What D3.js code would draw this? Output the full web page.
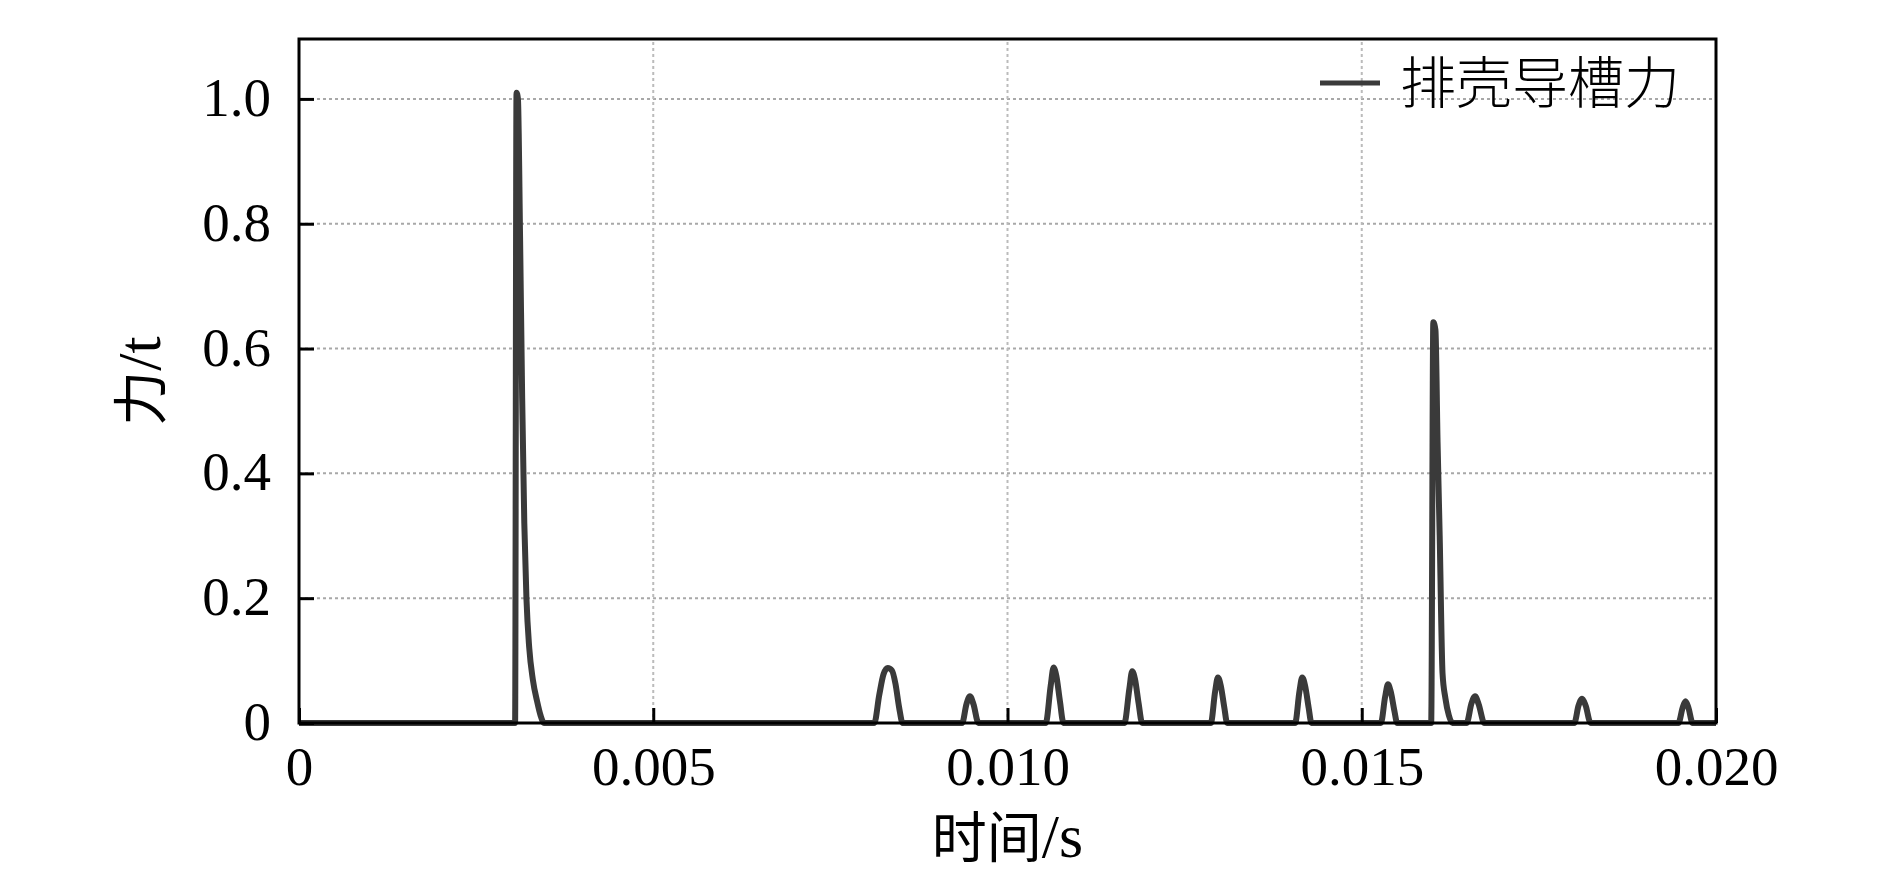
<!DOCTYPE html>
<html>
<head>
<meta charset="utf-8">
<script src="https://cdn.jsdelivr.net/npm/d3@7"></script>
<style>
  body { margin: 0; background: #fff; }
</style>
</head>
<body>
<svg id="chart"></svg>
<script>
// time (s) and force (t)
const timeValues = [
  0, 0.00305, 0.00307, 0.00309, 0.00312, 0.00315, 0.00318, 0.00321, 0.00325, 0.0033, 0.00336, 0.00341, 0.00346,
  0.00812, 0.00819, 0.00825, 0.00831, 0.00837, 0.00842, 0.00847, 0.00852,
  0.00936, 0.00942, 0.00947, 0.00952, 0.00959,
  0.01054, 0.01061, 0.01065, 0.01069, 0.01074, 0.01079,
  0.01165, 0.01172, 0.01176, 0.0118, 0.01185, 0.0119,
  0.01287, 0.01293, 0.01297, 0.01301, 0.01306, 0.0131,
  0.01406, 0.01412, 0.01416, 0.0142, 0.01425, 0.01429,
  0.01527, 0.01533, 0.01537, 0.01541, 0.01546, 0.0155,
  0.01598, 0.01601, 0.01604, 0.01607, 0.0161, 0.01614, 0.01618, 0.01623, 0.01628,
  0.01648, 0.01655, 0.0166, 0.01665, 0.01673,
  0.018, 0.01806, 0.01811, 0.01816, 0.01823,
  0.01947, 0.01953, 0.01957, 0.01961, 0.01967, 0.02
];
const forceValues = [
  0, 0, 1.01, 1.0, 0.78, 0.52, 0.32, 0.2, 0.12, 0.07, 0.035, 0.012, 0,
  0, 0.045, 0.078, 0.088, 0.084, 0.062, 0.025, 0,
  0, 0.03, 0.043, 0.03, 0,
  0, 0.06, 0.089, 0.075, 0.035, 0,
  0, 0.055, 0.083, 0.07, 0.032, 0,
  0, 0.05, 0.073, 0.06, 0.025, 0,
  0, 0.05, 0.073, 0.06, 0.025, 0,
  0, 0.042, 0.062, 0.05, 0.02, 0,
  0, 0.642, 0.63, 0.45, 0.3, 0.08, 0.04, 0.012, 0,
  0, 0.032, 0.043, 0.03, 0,
  0, 0.028, 0.039, 0.028, 0,
  0, 0.025, 0.035, 0.025, 0, 0
];
const xTicks = [0, 0.005, 0.01, 0.015, 0.02];
const yTicks = [0, 0.2, 0.4, 0.6, 0.8, 1.0];
const seriesName = "排壳导槽力";

let width = 1890,
  height = 885;
let margin = { top: 39, right: 174, bottom: 162, left: 299 };
let lineColor = "#3a3a3a";
let serif = "'Liberation Serif', 'Noto Sans CJK SC', serif";

let svg = d3.select("#chart").attr("width", width).attr("height", height);
svg.append("rect").attr("width", width).attr("height", height).attr("fill", "#fff");

let xScale = d3.scaleLinear().domain([0, 0.02]).range([margin.left, width - margin.right]);
let yScale = d3.scaleLinear().domain([0, 1.096]).range([height - margin.bottom, margin.top]);

// dotted grid
svg.append("g")
  .selectAll("line")
  .data(yTicks.filter((d) => d > 0))
  .enter()
  .append("line")
  .attr("x1", xScale(0))
  .attr("x2", xScale(0.02))
  .attr("y1", (d) => yScale(d))
  .attr("y2", (d) => yScale(d))
  .attr("stroke", "#a8a8a8")
  .attr("stroke-width", 2)
  .attr("stroke-dasharray", "3,3");

svg.append("g")
  .selectAll("line")
  .data(xTicks.filter((d) => d > 0 && d < 0.02))
  .enter()
  .append("line")
  .attr("x1", (d) => xScale(d))
  .attr("x2", (d) => xScale(d))
  .attr("y1", yScale(0))
  .attr("y2", yScale(1.096))
  .attr("stroke", "#bbb")
  .attr("stroke-width", 2)
  .attr("stroke-dasharray", "3,3");

// series
let points = timeValues.map((t, i) => [t, forceValues[i]]);
let line = d3.line()
  .x((d) => xScale(d[0]))
  .y((d) => yScale(d[1]))
  .curve(d3.curveMonotoneX);

svg.append("path")
  .datum(points)
  .attr("d", line)
  .attr("fill", "none")
  .attr("stroke", lineColor)
  .attr("stroke-width", 6)
  .attr("stroke-linejoin", "round");

// axes with inward ticks
let yAxis = svg.append("g")
  .attr("transform", `translate(${margin.left}, 0)`)
  .call(d3.axisLeft(yScale).tickValues(yTicks).tickSize(-15).tickPadding(28)
    .tickFormat((d) => (d === 0 ? "0" : d3.format(".1f")(d))));
yAxis.select(".domain").remove();
yAxis.selectAll(".tick line").attr("stroke", "#000").attr("stroke-width", 3);
yAxis.selectAll(".tick text")
  .attr("font-family", serif)
  .attr("font-size", "55px")
  .attr("fill", "#000")
  .attr("dy", "0.3em");

let xAxis = svg.append("g")
  .attr("transform", `translate(0, ${height - margin.bottom})`)
  .call(d3.axisBottom(xScale).tickValues(xTicks).tickSize(-15).tickPadding(23)
    .tickFormat((d) => (d === 0 ? "0" : d3.format(".3f")(d))));
xAxis.select(".domain").remove();
xAxis.selectAll(".tick line").attr("stroke", "#000").attr("stroke-width", 3);
xAxis.selectAll(".tick text")
  .attr("font-family", serif)
  .attr("font-size", "55px")
  .attr("fill", "#000");

// frame
svg.append("rect")
  .attr("x", xScale(0))
  .attr("y", yScale(1.096))
  .attr("width", xScale(0.02) - xScale(0))
  .attr("height", yScale(0) - yScale(1.096))
  .attr("fill", "none")
  .attr("stroke", "#000")
  .attr("stroke-width", 3);

// axis titles
let xTitle = svg.append("text")
  .attr("x", (xScale(0) + xScale(0.02)) / 2)
  .attr("y", 857)
  .attr("text-anchor", "middle")
  .attr("font-family", serif)
  .attr("font-size", "55px")
  .attr("fill", "#000");
xTitle.append("tspan").text("时间");
xTitle.append("tspan").attr("font-size", "62px").text("/s");

let yTitle = svg.append("text")
  .attr("transform", `translate(160, ${(yScale(0) + yScale(1.096)) / 2}) rotate(-90)`)
  .attr("text-anchor", "middle")
  .attr("font-family", serif)
  .attr("font-size", "55px")
  .attr("fill", "#000");
yTitle.append("tspan").text("力");
yTitle.append("tspan").attr("font-size", "62px").text("/t");

// legend
svg.append("line")
  .attr("x1", 1320)
  .attr("x2", 1380)
  .attr("y1", 83)
  .attr("y2", 83)
  .attr("stroke", lineColor)
  .attr("stroke-width", 5);

svg.append("text")
  .attr("x", 1400)
  .attr("y", 83)
  .attr("dy", "0.36em")
  .attr("font-family", "'Noto Sans CJK SC', sans-serif")
  .attr("font-weight", 300)
  .attr("font-size", "56px")
  .attr("fill", "#000")
  .text(seriesName);
</script>
</body>
</html>
